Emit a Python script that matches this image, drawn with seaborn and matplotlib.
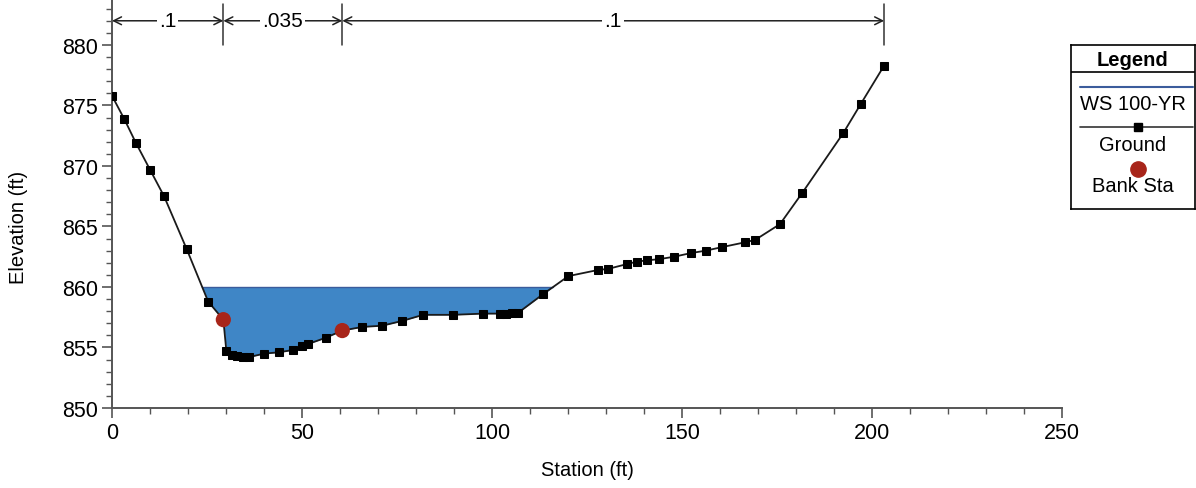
import matplotlib
matplotlib.use('Agg')
import matplotlib.pyplot as plt
import seaborn as sns
from matplotlib.lines import Line2D

# Ground profile (station ft, elevation ft)
station = [0.0, 3.2, 6.3, 10.0, 13.7, 19.7, 25.3, 29.3, 30.1, 31.5, 33.0, 34.5, 36.0,
           40.1, 43.9, 47.7, 49.9, 51.7, 56.2, 60.6, 65.9, 71.1, 76.4, 81.9, 89.8,
           97.6, 102.1, 103.7, 105.3, 106.8, 113.4, 120.1, 127.8, 130.6, 135.6, 138.2,
           140.7, 144.0, 147.9, 152.3, 156.2, 160.6, 166.7, 169.3, 175.8, 181.7, 192.4,
           197.0, 203.2]
elevation = [875.8, 873.9, 871.9, 869.7, 867.5, 863.1, 858.8, 857.3, 854.7, 854.4, 854.3, 854.2, 854.2,
             854.5, 854.6, 854.8, 855.1, 855.3, 855.8, 856.4, 856.7, 856.8, 857.2, 857.7, 857.7,
             857.8, 857.8, 857.8, 857.85, 857.85, 859.4, 860.9, 861.4, 861.5, 861.9, 862.1,
             862.2, 862.3, 862.5, 862.8, 863.0, 863.3, 863.7, 863.9, 865.2, 867.8, 872.7,
             875.1, 878.3]

bank_sta = [29.3, 60.6]
bank_elev = [857.3, 856.4]

ws_elev = 860.0

# Manning's n regions
n_bounds = [0.0, 29.3, 60.6, 203.2]
n_labels = ['.1', '.035', '.1']

water_color = '#3f86c6'
ws_color = '#3b5c9c'
bank_color = '#a8251a'

sns.set_style('ticks')
plt.rcParams['font.family'] = ['Liberation Sans', 'DejaVu Sans']
plt.rcParams['text.color'] = 'black'
plt.rcParams['axes.labelcolor'] = 'black'

fig = plt.figure(figsize=(11.96, 4.89), dpi=100)
ax = fig.add_axes([112 / 1196, 80 / 489, 950 / 1196, 409 / 489])

# water surface fill
ws_line = [ws_elev] * len(station)
ax.fill_between(station, elevation, ws_line, where=[e < ws_elev for e in elevation],
                interpolate=True, color=water_color, linewidth=0, zorder=1)
wet = [s for s, e in zip(station, elevation) if e < ws_elev]
ax.plot([wet[0] - 1.6, wet[-1] + 2.7], [ws_elev, ws_elev], color=ws_color, lw=1.0, zorder=2)

sns.lineplot(x=station, y=elevation, sort=False, color='#1a1a1a', linewidth=1.3,
             marker='s', markersize=6, markeredgecolor='black', markerfacecolor='black',
             ax=ax, zorder=3)
sns.scatterplot(x=bank_sta, y=bank_elev, color=bank_color, s=120, edgecolor='none',
                ax=ax, zorder=4)

ax.set_xlim(0, 250)
ax.set_ylim(850, 883.8)
ax.set_xticks([0, 50, 100, 150, 200, 250])
ax.set_xticks(range(0, 251, 10), minor=True)
ax.set_yticks([850, 855, 860, 865, 870, 875, 880])
ax.set_yticks(range(850, 884), minor=True)
ax.tick_params(axis='both', which='major', labelsize=15.5, length=7, width=1.2,
               color='#555555', labelcolor='black', direction='out', pad=3)
ax.tick_params(axis='both', which='minor', length=4, width=1.0, color='#555555',
               direction='out')
sns.despine(ax=ax)
for sp in ['left', 'bottom']:
    ax.spines[sp].set_color('#555555')
    ax.spines[sp].set_linewidth(1.4)
ax.set_xlabel('Station (ft)', fontsize=14.5)
ax.set_ylabel('Elevation (ft)', fontsize=14.5)
ax.xaxis.set_label_coords(0.5, -0.128)
ax.yaxis.set_label_coords(-0.088, 0.443)

# Manning's n annotation
y_arrow = 882.0
for b in n_bounds[1:]:
    ax.plot([b, b], [880.0, 883.4], color='#333333', lw=1.1, clip_on=False)
for i, lab in enumerate(n_labels):
    x0, x1 = n_bounds[i], n_bounds[i + 1]
    ax.annotate('', xy=(x1, y_arrow), xytext=(x0, y_arrow),
                arrowprops=dict(arrowstyle='<->', color='#222222', lw=1.1,
                                shrinkA=0, shrinkB=0, mutation_scale=14),
                annotation_clip=False)
    ax.text((x0 + x1) / 2, y_arrow, lab, ha='center', va='center', fontsize=15,
            bbox=dict(facecolor='white', edgecolor='none', pad=1.5), zorder=5)

# Legend box
lg = fig.add_axes([1071 / 1196, (489 - 210) / 489, 124 / 1196, 164 / 489])
lg.set_xlim(0, 124)
lg.set_ylim(164, 0)
lg.set_xticks([])
lg.set_yticks([])
for sp in lg.spines.values():
    sp.set_color('black')
    sp.set_linewidth(1.2)
lg.add_line(Line2D([0, 124], [27, 27], color='black', lw=1.2))
lg.text(62, 14, 'Legend', ha='center', va='center', fontsize=14.5, fontweight='bold')
lg.add_line(Line2D([9, 122], [42, 42], color=ws_color, lw=1.5))
lg.text(62, 59, 'WS 100-YR', ha='center', va='center', fontsize=14.5)
lg.add_line(Line2D([9, 122], [82, 82], color='#333333', lw=1.2))
lg.add_line(Line2D([67], [82], marker='s', markersize=6, color='black', lw=0))
lg.text(62, 100, 'Ground', ha='center', va='center', fontsize=14.5)
lg.add_line(Line2D([67], [124], marker='o', markersize=11, color=bank_color, lw=0))
lg.text(62, 141, 'Bank Sta', ha='center', va='center', fontsize=14.5)

fig.savefig('out.png', dpi=100)
